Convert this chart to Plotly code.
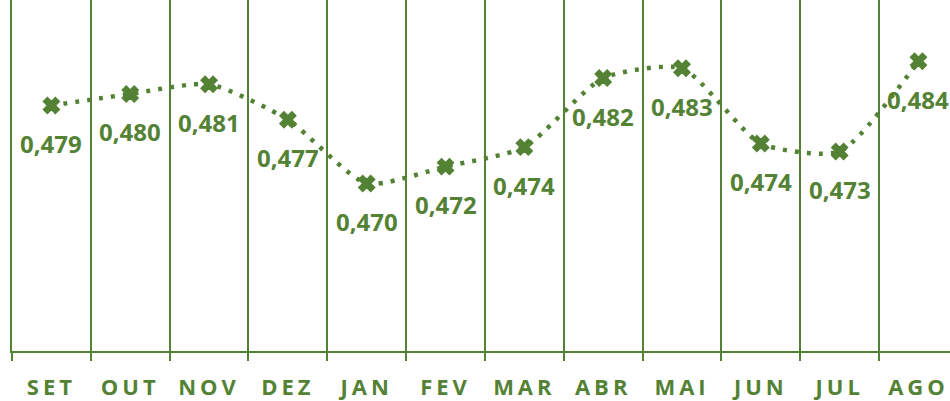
import plotly.graph_objects as go

# monthly values
months = ["SET", "OUT", "NOV", "DEZ", "JAN", "FEV", "MAR", "ABR", "MAI", "JUN", "JUL", "AGO"]
values = [0.4787, 0.4800, 0.4811, 0.4771, 0.4699, 0.4718, 0.4740, 0.4818, 0.4829, 0.4744, 0.4735, 0.4837]
labels = [f"{v:.3f}".replace(".", ",") for v in values]

GREEN = "#548235"
FONT = "Open Sans"

fig = go.Figure()
fig.add_trace(go.Scatter(
    x=months, y=values,
    mode="lines+markers",
    line=dict(color=GREEN, width=4.5, dash="4px,8px", shape="spline", smoothing=0.6),
    marker=dict(symbol="x", size=14, color=GREEN, line=dict(color=GREEN, width=1.5)),
    hoverinfo="x+y",
))

# data labels sit well below each marker
for m, v, t in zip(months, values, labels):
    fig.add_annotation(
        x=m, y=v, text=t, showarrow=False, yshift=-38,
        font=dict(family=FONT, size=24, color=GREEN, weight="bold"),
    )

# spaced-out month names, like the original
ticktext = [f'<span style="letter-spacing:4px">{m}</span>' for m in months]

fig.update_xaxes(
    type="category",
    range=[-0.5, 11.4],
    tickson="boundaries",
    tickvals=months, ticktext=ticktext,
    showgrid=True, gridcolor=GREEN, gridwidth=2,
    showline=True, linecolor=GREEN, linewidth=2,
    ticks="outside", ticklen=8, tickwidth=2, tickcolor=GREEN,
    ticklabelstandoff=16,
    tickfont=dict(family=FONT, size=22, color=GREEN, weight="bold"),
)
fig.update_yaxes(
    range=[0.4510, 0.4906],
    showgrid=False, zeroline=False, showticklabels=False,
    showline=True, linecolor=GREEN, linewidth=2,
)

fig.update_layout(
    width=950, height=401,
    margin=dict(l=12, r=0, t=0, b=45),
    plot_bgcolor="white", paper_bgcolor="white",
    showlegend=False,
)

# drop the browser's default body margin so the figure sits at the page corner
fig.write_html(
    "out.html",
    config={"displayModeBar": False},
    post_script="document.body.style.margin='0px';",
)
